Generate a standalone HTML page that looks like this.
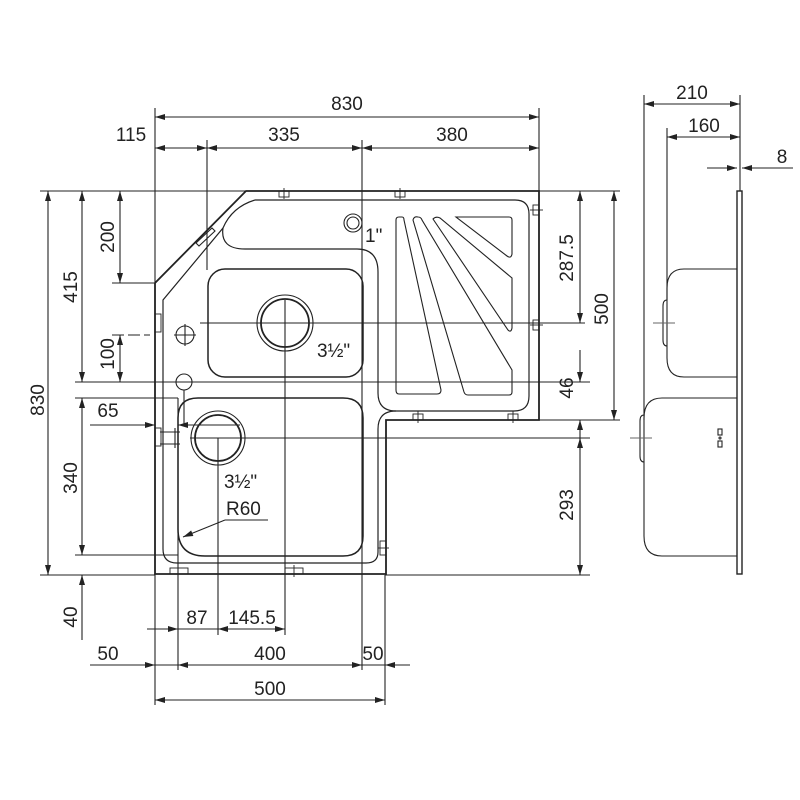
<!DOCTYPE html>
<html><head><meta charset="utf-8"><style>
html,body{margin:0;padding:0;background:#fff;}
svg{display:block;}
text{font-family:"Liberation Sans",sans-serif;font-size:19px;fill:#222;}
</style></head><body>
<svg width="800" height="800" viewBox="0 0 800 800" xmlns="http://www.w3.org/2000/svg">
<defs>
<marker id="a" viewBox="0 0 10 6" refX="10" refY="3" markerWidth="11" markerHeight="6" orient="auto-start-reverse" markerUnits="userSpaceOnUse"><path d="M0,0 L10,3 L0,6 z" fill="#222"/></marker>
</defs>
<g stroke="#222" stroke-width="1.1" fill="none">
<line x1="155" y1="108" x2="155" y2="705"/>
<line x1="539" y1="108" x2="539" y2="191"/>
<line x1="207" y1="140" x2="207" y2="270"/>
<line x1="362" y1="140" x2="362" y2="670"/>
<line x1="40" y1="191" x2="246" y2="191"/>
<line x1="539" y1="191" x2="620" y2="191"/>
<line x1="40" y1="575" x2="155" y2="575"/>
<line x1="385" y1="575" x2="590" y2="575"/>
<line x1="112" y1="283" x2="155" y2="283"/>
<line x1="112" y1="335" x2="150" y2="335" stroke-dasharray="12,4"/>
<line x1="75" y1="382" x2="590" y2="382"/>
<line x1="75" y1="398" x2="178" y2="398"/>
<line x1="75" y1="555" x2="178" y2="555"/>
<line x1="200" y1="323" x2="585" y2="323"/>
<line x1="539" y1="420" x2="620" y2="420"/>
<line x1="190" y1="438" x2="590" y2="438"/>
<line x1="178" y1="398" x2="178" y2="670"/>
<line x1="218" y1="438" x2="218" y2="635"/>
<line x1="285" y1="300" x2="285" y2="635"/>
<line x1="385" y1="575" x2="385" y2="705"/>
<line x1="155" y1="117" x2="539" y2="117" marker-start="url(#a)" marker-end="url(#a)"/>
<line x1="155" y1="148" x2="539" y2="148"/>
<line x1="155" y1="148" x2="207" y2="148" marker-start="url(#a)" marker-end="url(#a)"/>
<line x1="207" y1="148" x2="362" y2="148" marker-start="url(#a)" marker-end="url(#a)"/>
<line x1="362" y1="148" x2="539" y2="148" marker-start="url(#a)" marker-end="url(#a)"/>
<line x1="48" y1="191" x2="48" y2="575" marker-start="url(#a)" marker-end="url(#a)"/>
<line x1="82" y1="191" x2="82" y2="382" marker-start="url(#a)" marker-end="url(#a)"/>
<line x1="120" y1="191" x2="120" y2="283" marker-start="url(#a)" marker-end="url(#a)"/>
<line x1="120" y1="335" x2="120" y2="382" marker-start="url(#a)" marker-end="url(#a)"/>
<line x1="82" y1="398" x2="82" y2="555" marker-start="url(#a)" marker-end="url(#a)"/>
<line x1="82" y1="640" x2="82" y2="575" marker-end="url(#a)"/>
<line x1="90" y1="425" x2="155" y2="425" marker-end="url(#a)"/>
<line x1="200" y1="425" x2="178" y2="425" marker-end="url(#a)"/>
<line x1="147" y1="629" x2="285" y2="629"/>
<line x1="147" y1="629" x2="178" y2="629" marker-end="url(#a)"/>
<line x1="218" y1="629" x2="285" y2="629" marker-start="url(#a)" marker-end="url(#a)"/>
<line x1="90" y1="665" x2="410" y2="665"/>
<line x1="120" y1="665" x2="155" y2="665" marker-end="url(#a)"/>
<line x1="178" y1="665" x2="362" y2="665" marker-start="url(#a)" marker-end="url(#a)"/>
<line x1="410" y1="665" x2="385" y2="665" marker-end="url(#a)"/>
<line x1="155" y1="700" x2="385" y2="700" marker-start="url(#a)" marker-end="url(#a)"/>
<line x1="580" y1="191" x2="580" y2="323" marker-start="url(#a)" marker-end="url(#a)"/>
<line x1="614" y1="191" x2="614" y2="420" marker-start="url(#a)" marker-end="url(#a)"/>
<line x1="580" y1="350" x2="580" y2="382" marker-end="url(#a)"/>
<line x1="580" y1="450" x2="580" y2="420" marker-end="url(#a)"/>
<line x1="580" y1="438" x2="580" y2="575" marker-start="url(#a)" marker-end="url(#a)"/>
<line x1="644" y1="95" x2="644" y2="420"/>
<line x1="667" y1="128" x2="667" y2="300"/>
<line x1="740" y1="95" x2="740" y2="191"/>
<line x1="644" y1="104" x2="740" y2="104" marker-start="url(#a)" marker-end="url(#a)"/>
<line x1="667" y1="137" x2="740" y2="137" marker-start="url(#a)" marker-end="url(#a)"/>
<line x1="707" y1="168" x2="737" y2="168" marker-end="url(#a)"/>
<line x1="793" y1="168" x2="742" y2="168" marker-end="url(#a)"/>

<path d="M246,191 L539,191 L539,420 L386,420 L386,574 L155,574 L155,283 Z" stroke-width="1.8"/>
<path d="M255,200 L515,200 Q529,200 529,214 L529,396 Q529,411 514,411 L396,411 Q378,411 378,429 L378,552 Q378,563 366,563 L177,563 Q163,563 163,549 L163,300 L223,228 Q232,207 255,200" stroke-width="1.2"/>
<path d="M223,228 Q220,249 245,249 L357,249 Q378,249 378,272 L378,393 Q378,411 396,411" stroke-width="1.2"/>
<path d="M196,243 L212,228 L215,231 L199,246 Z"/>
<rect x="208" y="269" width="155" height="108" rx="17" stroke-width="1.5"/>
<path d="M198,398 L343,398 Q363,398 363,418 L363,536 Q363,556 343,556 L205,556 Q178,556 178,529 L178,418 Q178,398 198,398 Z" stroke-width="1.5"/>
<circle cx="285" cy="323" r="28"/><circle cx="285" cy="323" r="24" stroke-width="1.8"/>
<circle cx="218" cy="438" r="27"/><circle cx="218" cy="438" r="23" stroke-width="1.8"/>
<circle cx="353" cy="223" r="9"/><circle cx="353" cy="223" r="6"/>
<circle cx="185" cy="335" r="9"/>
<line x1="174" y1="335" x2="196" y2="335"/><line x1="185" y1="324" x2="185" y2="346"/>
<circle cx="184" cy="382" r="8"/>
<line x1="184" y1="390" x2="184" y2="425"/>
<line x1="200" y1="425" x2="240" y2="425"/>
<line x1="160" y1="432" x2="180" y2="432"/><line x1="160" y1="444" x2="180" y2="444"/>
<line x1="175" y1="428" x2="175" y2="448"/>
<path d="M396,220 Q396,217 399,217 L402,217 Q404,217 404,220 L441,390 Q441,394 437,394 L399,394 Q396,394 396,390 Z"/>
<path d="M413,220 Q414,216 418,217 Q421,217 422,220 L512,370 L512,392 Q512,395 509,395 L468,395 Q465,395 464,392 Z"/>
<path d="M433,219 Q436,216 440,218 L512,278 L512,328 Q511,333 508,330 Z"/>
<path d="M456,217 L509,217 Q512,217 512,220 L512,254 Q511,259 507,256 Z"/>
<g stroke-width="0.9">
<rect x="279" y="191" width="10" height="6"/><line x1="284" y1="188" x2="284" y2="199"/>
<rect x="395" y="191" width="10" height="6"/><line x1="400" y1="188" x2="400" y2="199"/>
<rect x="533" y="205" width="6" height="10"/><line x1="530" y1="210" x2="543" y2="210"/>
<rect x="533" y="320" width="6" height="10"/><line x1="530" y1="325" x2="543" y2="325"/>
<rect x="413" y="414" width="10" height="6"/><line x1="418" y1="411" x2="418" y2="423"/>
<rect x="508" y="414" width="10" height="6"/><line x1="513" y1="411" x2="513" y2="423"/>
<rect x="155" y="314" width="6" height="18"/>
<rect x="155" y="428" width="6" height="18"/>
<rect x="380" y="541" width="6" height="14"/><line x1="378" y1="548" x2="389" y2="548"/>
<rect x="170" y="568" width="18" height="6"/>
<rect x="285" y="568" width="18" height="6"/><line x1="294" y1="565" x2="294" y2="577"/>
</g>
<rect x="737" y="191" width="5" height="383" stroke-width="1.4"/>
<path d="M737,269 L684,269 Q667,269 667,288 L667,358 Q667,377 684,377 L737,377"/>
<path d="M667,300 Q663,300 663,306 L663,340 Q663,346 667,346"/>
<line x1="653" y1="323" x2="675" y2="323" stroke="#666"/>
<path d="M737,398 L662,398 Q644,398 644,418 L644,536 Q644,556 662,556 L737,556"/>
<path d="M644,415 Q640,415 640,421 L640,456 Q640,462 644,462"/>
<line x1="630" y1="438" x2="652" y2="438" stroke="#666"/>
<rect x="718" y="429" width="4" height="6"/><rect x="718" y="441" width="4" height="6"/>
<circle cx="720" cy="438" r="1"/>
</g>
<text x="347" y="110" text-anchor="middle">830</text>
<text x="131" y="141" text-anchor="middle">115</text>
<text x="284" y="141" text-anchor="middle">335</text>
<text x="452" y="141" text-anchor="middle">380</text>
<text x="692" y="99" text-anchor="middle">210</text>
<text x="704" y="132" text-anchor="middle">160</text>
<text x="782" y="163" text-anchor="middle">8</text>
<text x="365" y="242">1"</text>
<text x="317" y="357">3½"</text>
<text x="224" y="488">3½"</text>
<text x="226" y="515">R60</text>
<line x1="225" y1="520" x2="268" y2="520" stroke="#222"/>
<line x1="225" y1="520" x2="183" y2="537" stroke="#222" marker-end="url(#a)"/>
<text x="108" y="417" text-anchor="middle">65</text>
<text x="197" y="624" text-anchor="middle">87</text>
<text x="252" y="624" text-anchor="middle">145.5</text>
<text x="108" y="660" text-anchor="middle">50</text>
<text x="270" y="660" text-anchor="middle">400</text>
<text x="373" y="660" text-anchor="middle">50</text>
<text x="270" y="695" text-anchor="middle">500</text>
<text transform="translate(44,400) rotate(-90)" text-anchor="middle">830</text>
<text transform="translate(77,287) rotate(-90)" text-anchor="middle">415</text>
<text transform="translate(114,237) rotate(-90)" text-anchor="middle">200</text>
<text transform="translate(114,354) rotate(-90)" text-anchor="middle">100</text>
<text transform="translate(77,478) rotate(-90)" text-anchor="middle">340</text>
<text transform="translate(77,617) rotate(-90)" text-anchor="middle">40</text>
<text transform="translate(573,258) rotate(-90)" text-anchor="middle">287.5</text>
<text transform="translate(608,309) rotate(-90)" text-anchor="middle">500</text>
<text transform="translate(573,388) rotate(-90)" text-anchor="middle">46</text>
<text transform="translate(573,505) rotate(-90)" text-anchor="middle">293</text>
</svg>
</body></html>
